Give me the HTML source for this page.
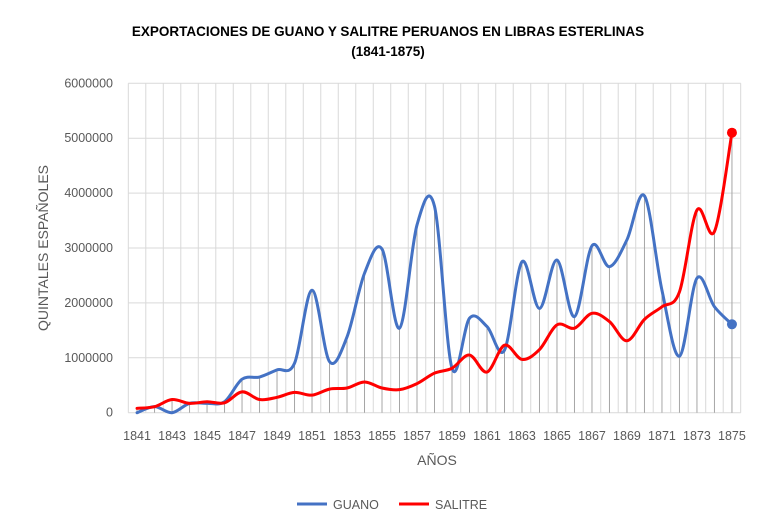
<!DOCTYPE html>
<html><head><meta charset="utf-8">
<style>
body{margin:0;background:#fff;}
svg{display:block;font-family:"Liberation Sans",sans-serif;}
</style></head>
<body>
<svg id="chart" width="771" height="531" viewBox="0 0 771 531" xmlns="http://www.w3.org/2000/svg">
<rect x="0" y="0" width="771" height="531" fill="#fff"/>
<text x="388" y="36" text-anchor="middle" font-size="13.5" font-weight="bold" fill="#000">EXPORTACIONES DE GUANO Y SALITRE PERUANOS EN LIBRAS ESTERLINAS</text>
<text x="388" y="56" text-anchor="middle" font-size="13.5" font-weight="bold" fill="#000">(1841-1875)</text>
<g id="grid"></g>
<g id="drops"></g>
<g id="series"></g>
<g id="labels"></g>
<text x="437" y="465" text-anchor="middle" font-size="14" fill="#595959">AÑOS</text>
<text transform="translate(48,248) rotate(-90)" text-anchor="middle" font-size="14" fill="#595959">QUINTALES ESPAÑOLES</text>
<g>
<line x1="297" y1="504" x2="327" y2="504" stroke="#4472C4" stroke-width="3"/>
<text x="333" y="509" font-size="12.5" fill="#595959">GUANO</text>
<line x1="399" y1="504" x2="429" y2="504" stroke="#FF0000" stroke-width="3"/>
<text x="435" y="509" font-size="12.5" fill="#595959">SALITRE</text>
</g>
</svg>
<script>
const years = [];
for (let y = 1841; y <= 1875; y++) years.push(y);
const guano = [0.0,0.11,0.0,0.17,0.17,0.2,0.61,0.65,0.78,0.9,2.23,0.93,1.38,2.54,2.98,1.54,3.42,3.76,0.81,1.72,1.57,1.14,2.75,1.9,2.78,1.75,3.04,2.66,3.15,3.95,2.23,1.03,2.45,1.93,1.61].map(v=>v*1000000);
const salitre = [0.08,0.11,0.24,0.17,0.2,0.18,0.38,0.24,0.28,0.37,0.32,0.43,0.45,0.56,0.45,0.42,0.53,0.72,0.81,1.05,0.74,1.23,0.97,1.15,1.6,1.54,1.81,1.66,1.31,1.7,1.93,2.2,3.69,3.3,5.1].map(v=>v*1000000);
const yTicks = [0,1000000,2000000,3000000,4000000,5000000,6000000];

const NS="http://www.w3.org/2000/svg";
const plotLeft=128.3,plotRight=740.7,plotTop=83.3,plotBottom=412.7,yMax=6000000;
const band=(plotRight-plotLeft)/years.length;
const xPos=i=>plotLeft+band*(i+0.5);
const yPos=v=>plotBottom-(v/yMax)*(plotBottom-plotTop);
function mk(tag,attrs,parent){const e=document.createElementNS(NS,tag);for(const k in attrs)e.setAttribute(k,attrs[k]);parent.appendChild(e);return e;}
const grid=document.getElementById('grid');
const labels=document.getElementById('labels');
yTicks.forEach(t=>{
  const l=mk('line',{x1:plotLeft,x2:plotRight,y1:yPos(t),y2:yPos(t),stroke:'#d9d9d9','stroke-width':1},grid);
  
  
  const tx=mk('text',{x:113,y:yPos(t)+4,'text-anchor':'end','font-size':12.5,fill:'#595959'},labels);
  tx.textContent=t;
  
  
});
for(let i=0;i<=years.length;i++){
  const x=plotLeft+band*i;
  const l=mk('line',{x1:x,x2:x,y1:plotTop,y2:plotBottom,stroke:'#d9d9d9','stroke-width':1},grid);
  
  
}
const drops=document.getElementById('drops');
years.forEach((yr,i)=>{
  const l=mk('line',{x1:xPos(i),x2:xPos(i),y1:yPos(Math.max(guano[i],salitre[i])),y2:plotBottom,stroke:'#a6a6a6','stroke-width':1},drops);
  
  
  if(i%2===0){
    const tx=mk('text',{x:xPos(i),y:440,'text-anchor':'middle','font-size':12.5,fill:'#595959'},labels);
    tx.textContent=yr;
    
    
  }
});
function smooth(vals){
  const p=vals.map((v,i)=>[xPos(i),yPos(v)]);
  let d='M'+p[0][0]+','+p[0][1];
  for(let i=0;i<p.length-1;i++){
    const p0=p[i-1]||p[i],p1=p[i],p2=p[i+1],p3=p[i+2]||p[i+1];
    const c1=[p1[0]+(p2[0]-p0[0])/6,p1[1]+(p2[1]-p0[1])/6];
    const c2=[p2[0]-(p3[0]-p1[0])/6,p2[1]-(p3[1]-p1[1])/6];
    d+=' C'+c1+' '+c2+' '+p2;
  }
  return d;
}
const sg=document.getElementById('series');
[[guano,'#4472C4','guano'],[salitre,'#FF0000','salitre']].forEach(([vals,col,nm])=>{
  const p=mk('path',{d:smooth(vals),fill:'none',stroke:col,'stroke-width':3,'stroke-linejoin':'round','stroke-linecap':'round'},sg);
  
  
  const n=vals.length-1;
  const c=mk('circle',{cx:xPos(n),cy:yPos(vals[n]),r:5,fill:col},sg);
  
  
});
</script>
</body></html>
